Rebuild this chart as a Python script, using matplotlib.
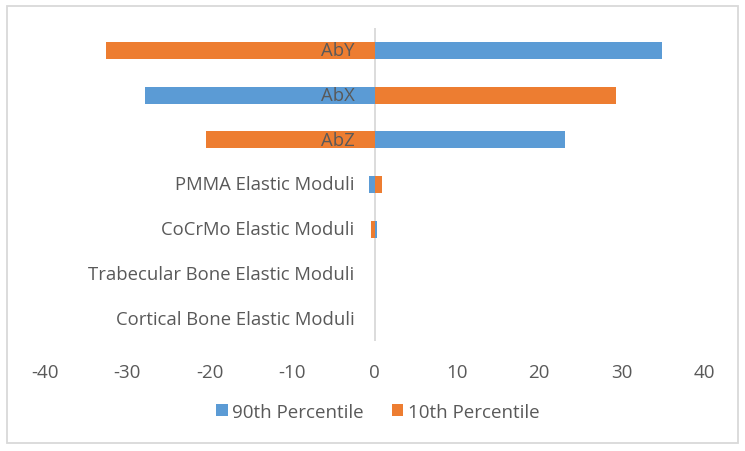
import matplotlib.pyplot as plt
from matplotlib.patches import Rectangle
from matplotlib.transforms import offset_copy

# categories listed bottom to top
categories = ["Cortical Bone Elastic Moduli", "Trabecular Bone Elastic Moduli",
              "CoCrMo Elastic Moduli", "PMMA Elastic Moduli", "AbZ", "AbX", "AbY"]
p90 = [0, 0, 0.3, -0.65, 23.1, -27.8, 34.9]
p10 = [0, 0, -0.45, 0.85, -20.5, 29.3, -32.6]
ticks = [-40, -30, -20, -10, 0, 10, 20, 30, 40]

blue = "#5B9BD5"
orange = "#ED7D31"
grey_text = "#595959"

plt.rcParams['font.family'] = ['Open Sans', 'DejaVu Sans']

fig = plt.figure(figsize=(7.45, 4.52), dpi=100)
ax = fig.add_axes([45 / 745, 1 - 342 / 452, (704 - 45) / 745, (342 - 29) / 452])

y = range(len(categories))
ax.barh(y, p90, height=0.38, color=blue, label="90th Percentile", zorder=2)
ax.barh(y, p10, height=0.38, color=orange, label="10th Percentile", zorder=2)

ax.set_xlim(-40, 40)
ax.set_ylim(-0.5, len(categories) - 0.5)
ax.axvline(0, color="#D9D9D9", lw=1.3, zorder=1)

ax.set_xticks(ticks)
ax.set_xticklabels([str(t) for t in ticks], color=grey_text, fontsize=13.5)
ax.tick_params(axis='x', length=0, pad=16)
ax.set_yticks([])
for s in ax.spines.values():
    s.set_visible(False)

# category labels next to the axis
lab_tr = offset_copy(ax.transData, fig=fig, x=-20, y=0, units='dots')
for i, name in enumerate(categories):
    ax.text(0, i, name, transform=lab_tr, ha='right', va='center',
            color=grey_text, fontsize=13.3, zorder=3)

leg = fig.legend(loc='center', bbox_to_anchor=(378 / 745, 1 - 413 / 452), ncol=2,
                 frameon=False, fontsize=13.5, handlelength=0.6, handleheight=0.6,
                 handletextpad=0.25, columnspacing=1.5)
for t in leg.get_texts():
    t.set_color(grey_text)

fig.patches.append(Rectangle((7 / 745, 1 - 444 / 452), 731 / 745, 437 / 452,
                             transform=fig.transFigure, fill=False,
                             edgecolor="#D9D9D9", lw=1.3))

fig.savefig("out.png", dpi=100, facecolor="white")
